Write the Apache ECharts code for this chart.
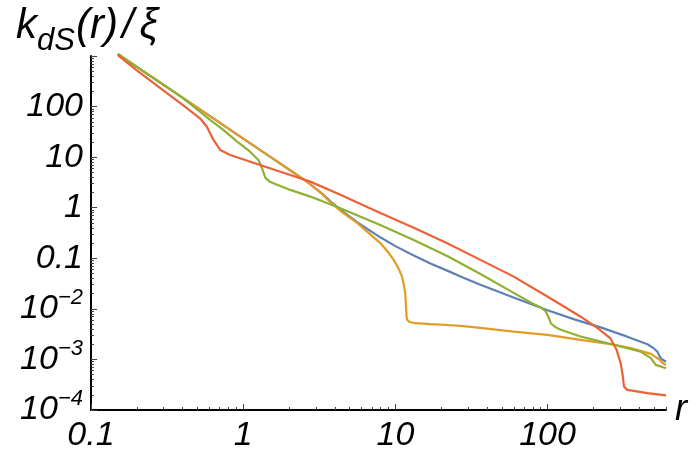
<!DOCTYPE html>
<html><head><meta charset="utf-8">
<script src="https://cdn.jsdelivr.net/npm/echarts@6/dist/echarts.min.js"></script>
<style>html,body{margin:0;padding:0;background:#fff}#c{width:697px;height:456px}</style>
</head><body><div id="c"></div>
<script>
// ---- data (r, k_dS(r)/xi) ----
const rBlue = [0.15,0.2,0.3,0.5,0.7,1,1.5,2,2.62,3.3,3.73,4.35,5.6,7.96,10,13.1,17,21.9,28,36.2,59.7,100,150,223,334,453,500,527,545,560,600];
const kBlue = [1094,611,268,95,48,23.3,10.2,5.7,3.28,1.9,1.35,0.92,0.52,0.26,0.174,0.115,0.079,0.057,0.0412,0.030,0.0168,0.0094,0.0062,0.0043,0.00282,0.00200,0.00165,0.00142,0.00115,0.00102,0.00090];

const rOrange = [0.15,0.2,0.3,0.5,0.7,1,1.5,2,2.62,3.3,3.73,4.35,5.6,7.96,9.0,9.75,10.5,11.07,11.4,11.6,11.75,11.85,12.0,12.4,13.5,17,21.9,26.8,36.2,59.9,99.6,165,273,352,477,540,569,600];
const kOrange = [1094,611,268,95,48,23.3,10.2,5.7,3.28,1.88,1.3,0.87,0.50,0.20,0.13,0.093,0.062,0.0434,0.028,0.0207,0.011,0.0068,0.0060,0.0055,0.0052,0.0050,0.0048,0.0046,0.0042,0.00356,0.00306,0.00244,0.00195,0.00167,0.00129,0.00101,0.00085,0.00077];

const rGreen = [0.15,0.2,0.3,0.4,0.52,0.6,0.74,0.9,1.11,1.26,1.33,1.40,1.5,1.58,2.04,2.76,4.35,7.96,13.2,21.9,36.2,59.9,80,90,97,102,105,112,122,165,273,409,477,514,600];
const kGreen = [1094,611,268,149,79,56,34.5,21,12.8,8.8,6.0,3.9,3.25,3.05,2.25,1.66,0.977,0.457,0.231,0.111,0.049,0.0207,0.0126,0.0108,0.009,0.0066,0.0052,0.0044,0.00385,0.00284,0.00195,0.00143,0.00106,0.00078,0.00067];

const rRed = [0.15,0.2,0.3,0.4,0.52,0.577,0.638,0.706,0.821,1.29,2.04,2.76,4.35,7.96,13.2,21.9,36.2,59.9,99.6,128,165,212,259,284,302,311,318,334,453,600];
const kRed = [1040,521,207,108,58.7,40,21.9,13.9,11.0,7.0,4.45,3.28,1.8,0.79,0.40,0.199,0.093,0.0434,0.0175,0.0111,0.0070,0.0042,0.0026,0.00155,0.00085,0.0005,0.00029,0.00025,0.000216,0.000194];

// ---- axes / ticks ----
const xMin = 0.1, xMax = 600, yMin = 1e-4, yMax = 1000;
const xTickValues = [0.1, 1, 10, 100];
const xTickLabels = ['0.1', '1', '10', '100'];
const yTickValues = [1e-4, 1e-3, 1e-2, 0.1, 1, 10, 100];
const yTickLabels = ['{b|10}{s|\u22124}', '{b|10}{s|\u22123}', '{b|10}{s|\u22122}', '{b|0.1}', '{b|1}', '{b|10}', '{b|100}'];
const mantissas = [2,3,4,5,6,7,8,9];
const xDecades = [0.1, 1, 10, 100];
const yDecades = [1e-4, 1e-3, 1e-2, 0.1, 1, 10, 100];

const xMinorLog = [];
xDecades.forEach(d => mantissas.forEach(m => { const v = d*m; if (v <= xMax) xMinorLog.push(Math.log10(v)); }));
const yMinorLog = [];
yDecades.forEach(d => mantissas.forEach(m => { const v = d*m; if (v <= yMax) yMinorLog.push(Math.log10(v)); }));

const zip = (a, b) => a.map((v, i) => [v, b[i]]);
const fam = '"Liberation Sans", Arial, sans-serif';
const labelFromList = (vals, labs) => (v) => {
  for (let i = 0; i < vals.length; i++) {
    if (Math.abs(Math.log10(v) - Math.log10(vals[i])) < 1e-6) return labs[i];
  }
  return '';
};
const tickColor = '#444';
const tStyle = { fontStyle: 'italic', fontWeight: 'normal', fontFamily: fam, color: '#000' };

const chart = echarts.init(document.getElementById('c'));
chart.setOption({
  animation: false,
  backgroundColor: '#fff',
  title: {
    text: '{k|k}{s|dS}{k|(r)}{sl|/}{k|\u03BE}',
    left: 11, top: 0,
    textStyle: {
      fontWeight: 'normal',
      rich: {
        k: Object.assign({ fontSize: 42, lineHeight: 52, verticalAlign: 'top' }, tStyle),
        sl: Object.assign({ fontSize: 42, lineHeight: 52, verticalAlign: 'top', padding: [0, 6, 0, 4] }, tStyle),
        s: Object.assign({ fontSize: 31, verticalAlign: 'bottom', padding: [0, 1, 0, 0] }, tStyle)
      }
    }
  },
  grid: { left: 91, right: 31, top: 56, bottom: 46, containLabel: false, outerBoundsMode: 'none' },
  xAxis: [
    {
      type: 'log', logBase: 10, min: xMin, max: xMax, interval: 1,
      axisLine: { show: true, onZero: false, lineStyle: { color: '#000', width: 2 } },
      axisTick: { show: true, inside: true, length: 6, lineStyle: { color: tickColor, width: 1 } },
      axisLabel: {
        show: true, margin: 9, showMaxLabel: false, color: '#000', fontSize: 34, fontStyle: 'italic', fontFamily: fam,
        formatter: labelFromList(xTickValues, xTickLabels)
      },
      splitLine: { show: false },
      name: 'r', nameLocation: 'end', nameGap: 9,
      nameTextStyle: { fontSize: 36, fontStyle: 'italic', fontFamily: fam, color: '#000', verticalAlign: 'middle', padding: [6, 0, 0, 0] }
    },
    {
      type: 'value', min: Math.log10(xMin), max: Math.log10(xMax), position: 'bottom',
      axisLine: { show: false, onZero: false },
      axisTick: { show: true, inside: true, length: 3, customValues: xMinorLog, lineStyle: { color: tickColor, width: 1 } },
      axisLabel: { show: false, customValues: xMinorLog },
      splitLine: { show: false }
    }
  ],
  yAxis: [
    {
      type: 'log', logBase: 10, min: yMin, max: yMax, interval: 1,
      axisLine: { show: true, onZero: false, lineStyle: { color: '#000', width: 2 } },
      axisTick: { show: true, inside: true, length: 6, lineStyle: { color: tickColor, width: 1 } },
      axisLabel: {
        show: true, margin: 8, color: '#000',
        formatter: labelFromList(yTickValues, yTickLabels),
        rich: {
          b: { fontSize: 34, fontStyle: 'italic', fontFamily: fam, color: '#000', lineHeight: 44, verticalAlign: 'middle' },
          s: { fontSize: 22, fontStyle: 'italic', fontFamily: fam, color: '#000', verticalAlign: 'top' }
        }
      },
      splitLine: { show: false }
    },
    {
      type: 'value', min: Math.log10(yMin), max: Math.log10(yMax), position: 'left',
      axisLine: { show: false, onZero: false },
      axisTick: { show: true, inside: true, length: 3, customValues: yMinorLog, lineStyle: { color: tickColor, width: 1 } },
      axisLabel: { show: false, customValues: yMinorLog },
      splitLine: { show: false }
    }
  ],
  series: [
    { name: 'blue', type: 'line', data: zip(rBlue, kBlue), color: '#5E81B5' },
    { name: 'orange', type: 'line', data: zip(rOrange, kOrange), color: '#E19C24' },
    { name: 'green', type: 'line', data: zip(rGreen, kGreen), color: '#8FB032' },
    { name: 'red', type: 'line', data: zip(rRed, kRed), color: '#EB6235' }
  ].map(s => Object.assign(s, {
    xAxisIndex: 0, yAxisIndex: 0, showSymbol: false, symbol: 'none', clip: false, smooth: false,
    lineStyle: { width: 2.2, color: s.color }, emphasis: { disabled: true }
  }))
});
</script>
</body></html>
